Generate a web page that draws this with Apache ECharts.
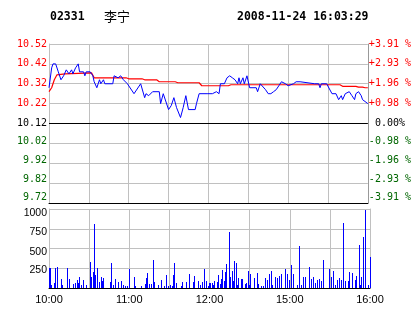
<!DOCTYPE html>
<html><head><meta charset="utf-8">
<script src="https://cdn.jsdelivr.net/npm/echarts@6/dist/echarts.min.js"></script>
<style>html,body{margin:0;padding:0;background:#fff}#c{width:414px;height:314px}</style>
</head><body><div id="c"></div>
<script>
const stockCode = '02331';
const stockName = '李宁';
const stamp = '2008-11-24 16:03:29';
const timeLabels = ['10:00', '', '11:00', '', '12:00', '', '15:00', '', '16:00'];
const priceTicks = ['9.72', '9.82', '9.92', '10.02', '10.12', '10.22', '10.32', '10.42', '10.52'];
const pctTicks = ['-3.91 %', '-2.93 %', '-1.96 %', '-0.98 %', ' 0.00%', '+0.98 %', '+1.96 %', '+2.93 %', '+3.91 %'];
const volTicks = ['', '250', '500', '750', '1000'];
const prevClose = 10.12;

const priceMin = [0,2,3,5,7,9,11,13,15,17,18,20,22,23,26,27,28,31,33,34,36,38,39,41,42,48,49,52,54,56,59,64,69,72,73,75,78,83,84,86,90,92,94,96,99,101,103,105,110,111,113,119,120,123,126,128,129,132,134,136,138,140,142,143,144,146,147,149,150,151,156,157,159,160,163,165,167,169,171,173,175,176,178,180,181,184,186,189,190,200,201,203,204,205,206,209,210,213,216,218,220,221,223,224,226,227,228,230,231,233,235,236,237,240];
const priceVal = [10.30,10.40,10.42,10.42,10.38,10.34,10.36,10.39,10.37,10.39,10.37,10.40,10.42,10.38,10.38,10.36,10.38,10.38,10.36,10.33,10.30,10.34,10.32,10.34,10.32,10.32,10.36,10.35,10.36,10.34,10.32,10.27,10.32,10.25,10.27,10.26,10.28,10.28,10.22,10.27,10.19,10.21,10.25,10.20,10.15,10.20,10.26,10.19,10.19,10.22,10.27,10.27,10.28,10.27,10.28,10.27,10.32,10.32,10.35,10.36,10.35,10.34,10.32,10.35,10.32,10.35,10.32,10.36,10.36,10.30,10.30,10.28,10.32,10.32,10.29,10.27,10.27,10.28,10.29,10.31,10.33,10.34,10.32,10.31,10.30,10.32,10.33,10.33,10.32,10.32,10.31,10.32,10.30,10.32,10.31,10.32,10.32,10.27,10.27,10.24,10.26,10.24,10.27,10.26,10.28,10.27,10.26,10.24,10.27,10.28,10.26,10.24,10.24,10.22];

const avgMin = [0,2,4,6,12,13,32,34,58,60,70,72,81,83,95,97,113,115,135,137,219,221,231,233,236,238,240];
const avgVal = [10.28,10.30,10.34,10.365,10.37,10.375,10.375,10.35,10.35,10.345,10.345,10.34,10.34,10.33,10.33,10.325,10.325,10.31,10.31,10.315,10.315,10.307,10.307,10.303,10.303,10.30,10.30];

const volMin = [0,1,2,4,5,6,9,10,14,15,18,20,21,22,23,24,26,28,31,32,33,34,35,36,38,39,40,41,46,47,48,50,52,54,56,57,59,60,64,65,69,72,73,74,75,77,78,79,82,84,86,88,89,91,92,93,94,95,99,100,103,105,108,109,112,113,115,116,118,119,120,121,122,123,124,126,127,128,129,130,131,132,133,135,136,137,138,139,140,141,142,144,145,147,148,149,150,151,154,156,157,159,160,162,163,165,166,167,169,171,172,174,177,178,180,181,183,186,187,189,190,192,195,196,198,199,201,202,204,205,210,211,213,214,216,217,219,220,222,224,225,227,229,230,232,233,234,235,237,239,240];
const volVal = [251,251,38,60,250,272,115,38,250,115,51,60,102,60,140,38,98,38,328,140,208,804,166,250,72,140,89,123,72,315,38,115,81,89,38,30,30,243,140,21,26,55,132,187,55,47,357,81,38,98,21,166,30,38,21,166,315,64,26,72,72,179,72,153,89,38,72,243,89,26,64,64,64,38,89,72,166,47,115,230,89,208,306,715,140,217,89,345,315,38,128,115,115,51,64,217,38,179,128,191,47,26,26,128,102,179,217,38,140,128,153,179,243,179,102,294,179,38,536,38,140,140,268,115,140,64,102,115,89,357,243,140,217,38,102,128,102,817,89,89,204,191,102,153,549,38,140,651,983,38,396];

const GREEN = '#006600', RED = '#ff0000', GRID = '#c0c0c0';
const mono = '"DejaVu Sans Mono", "Liberation Mono", monospace';
const sans = '"Liberation Sans", Arial, sans-serif';

// vertical nudges of the tick labels (px, + = down), by tick index
const priceShift = [-6, -3.5, -3, -2, 0, 0, 0, 0, 0.5];
const volShift = [0, 2, 3.3, 3.7, 4.4];

function tickIdx(v) { return Math.round((v - 9.72) / 0.1); }
function tickColor(i) { return i > 4 ? RED : (i === 4 ? '#000' : GREEN); }
function pad(s) { return s < 0 ? [0, 0, -2 * s, 0] : [2 * s, 0, 0, 0]; }

const richPrice = {};
priceTicks.forEach((t, i) => {
  richPrice['p' + i] = { color: tickColor(i), fontFamily: mono, fontSize: 10, padding: pad(priceShift[i]) };
});
const richVol = {};
volTicks.forEach((t, i) => {
  richVol['v' + i] = { color: '#000', fontFamily: sans, fontSize: 10.5, padding: pad(volShift[i]) };
});

const chart = echarts.init(document.getElementById('c'), null, { renderer: 'canvas' });
chart.setOption({
  animation: false,
  backgroundColor: '#fff',
  graphic: [
    { type: 'text', left: 50, top: 11, style: { text: stockCode, font: 'bold 11.5px ' + mono, fill: '#000' } },
    { type: 'text', left: 104, top: 9.5, style: { text: stockName, font: '13px "Noto Sans CJK SC"', fill: '#000' } },
    { type: 'text', left: 237, top: 11, style: { text: stamp, font: 'bold 11.5px ' + mono, fill: '#000' } }
  ],
  grid: [
    { left: 49, top: 44, width: 321, height: 159, containLabel: false },
    { left: 49, top: 209, width: 321, height: 79, containLabel: false }
  ],
  xAxis: [
    {
      type: 'value', gridIndex: 0, min: 0, max: 240, interval: 30,
      axisLine: { show: true, lineStyle: { color: '#000', width: 1 } },
      axisTick: { show: false }, axisLabel: { show: false },
      splitLine: { show: true, lineStyle: { color: GRID, width: 1 } }
    },
    {
      type: 'value', gridIndex: 1, min: 0, max: 240, interval: 30,
      axisLine: { show: true, lineStyle: { color: '#000', width: 1 } },
      axisTick: { show: false },
      axisLabel: {
        show: true, margin: 6, color: '#000', fontFamily: sans, fontSize: 11,
        showMinLabel: true, showMaxLabel: true,
        formatter: v => timeLabels[Math.round(v / 30)] || ''
      },
      splitLine: { show: true, lineStyle: { color: GRID, width: 1 } }
    }
  ],
  yAxis: [
    {
      type: 'value', gridIndex: 0, position: 'left', min: 9.72, max: 10.52, interval: 0.1,
      axisLine: { show: true, lineStyle: { color: GRID } },
      axisTick: { show: false },
      axisLabel: {
        margin: 2, rich: richPrice,
        formatter: v => { const i = tickIdx(v); return '{p' + i + '|' + priceTicks[i] + '}'; }
      },
      splitLine: { show: true, lineStyle: { color: GRID, width: 1 } }
    },
    {
      type: 'value', gridIndex: 0, position: 'right', min: 9.72, max: 10.52, interval: 0.1,
      axisLine: { show: true, lineStyle: { color: '#999' } },
      axisTick: { show: false },
      axisLabel: {
        margin: 1, rich: richPrice,
        formatter: v => { const i = tickIdx(v); return '{p' + i + '|' + pctTicks[i] + '}'; }
      },
      splitLine: { show: false }
    },
    {
      type: 'value', gridIndex: 1, position: 'left', min: 0, max: 1000, interval: 250,
      axisLine: { show: true, lineStyle: { color: GRID } },
      axisTick: { show: false },
      axisLabel: {
        margin: 2, rich: richVol,
        formatter: v => { const i = Math.round(v / 250); return volTicks[i] ? '{v' + i + '|' + volTicks[i] + '}' : ''; }
      },
      splitLine: { show: true, lineStyle: { color: GRID, width: 1 } }
    },
    {
      type: 'value', gridIndex: 1, position: 'right', min: 0, max: 1000, interval: 250,
      axisLine: { show: true, lineStyle: { color: GRID } },
      axisTick: { show: false }, axisLabel: { show: false }, splitLine: { show: false }
    }
  ],
  series: [
    {
      type: 'line', xAxisIndex: 0, yAxisIndex: 0, showSymbol: false, symbol: 'none',
      data: avgMin.map((m, i) => [m, avgVal[i]]),
      lineStyle: { color: RED, width: 1.2 }, z: 3
    },
    {
      type: 'line', xAxisIndex: 0, yAxisIndex: 0, showSymbol: false, symbol: 'none',
      data: priceMin.map((m, i) => [m, priceVal[i]]),
      lineStyle: { color: '#0000ff', width: 1 }, z: 4,
      markLine: {
        silent: true, symbol: 'none', label: { show: false },
        lineStyle: { color: '#000', width: 1, type: 'solid' },
        data: [{ yAxis: prevClose }]
      }
    },
    {
      type: 'custom', xAxisIndex: 1, yAxisIndex: 2, z: 3,
      data: volMin.map((m, i) => [m, volVal[i]]),
      renderItem: function (params, api) {
        const base = api.coord([api.value(0), 0]);
        const top = api.coord([api.value(0), api.value(1)]);
        const x = Math.floor(base[0]);
        const y0 = Math.round(base[1]);
        const y1 = Math.round(top[1]);
        return {
          type: 'rect',
          shape: { x: x, y: y1, width: 1, height: y0 - y1 },
          style: { fill: '#0000ff' }
        };
      }
    }
  ]
});
</script>
</body></html>
